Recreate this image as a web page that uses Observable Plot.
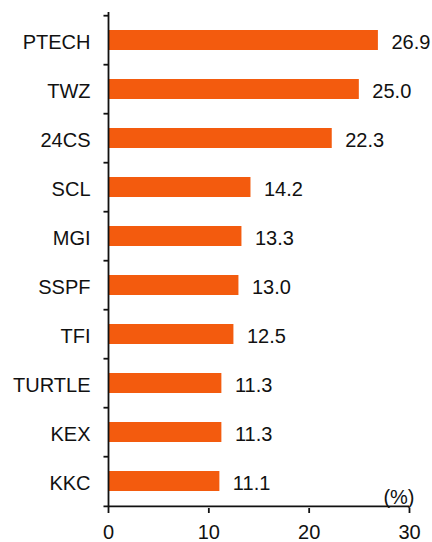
<!DOCTYPE html>
<html>
<head>
<meta charset="utf-8">
<script src="https://cdn.jsdelivr.net/npm/d3@7"></script>
<script src="https://cdn.jsdelivr.net/npm/@observablehq/plot@0.6"></script>
<style>
  html, body { margin: 0; padding: 0; background: #fff; }
  svg { display: block; }
</style>
</head>
<body>
<div id="chart"></div>
<script>
const categories = ["PTECH", "TWZ", "24CS", "SCL", "MGI", "SSPF", "TFI", "TURTLE", "KEX", "KKC"];
const values = [26.9, 25.0, 22.3, 14.2, 13.3, 13.0, 12.5, 11.3, 11.3, 11.1];
const xTicks = [0, 10, 20, 30];
const unitLabel = "(%)";

const data = categories.map((c, i) => ({name: c, value: values[i]}));

const W = 432, H = 542;
const mt = 12, mb = 34, ml = 108, mr = 23;
const step = (H - mt - mb) / categories.length;
const font = "Liberation Sans, Arial, Helvetica, sans-serif";
const orange = "#F35B0E";

const chart = Plot.plot({
  width: W,
  height: H,
  marginTop: mt,
  marginBottom: mb,
  marginLeft: ml,
  marginRight: mr,
  style: {fontFamily: font, fontSize: "20px", color: "#111", background: "#fff", overflow: "visible"},
  x: {domain: [0, 30], ticks: xTicks},
  y: {domain: categories, paddingInner: 0.6, paddingOuter: 0.3},
  marks: [
    Plot.barX(data, {y: "name", x: "value", fill: orange}),
    Plot.text(data, {y: "name", x: "value", text: d => d.value.toFixed(1), textAnchor: "start", dx: 13, dy: 2, fill: "#111", fontSize: 20}),
    Plot.axisY({tickSize: 0, tickPadding: 18, dy: 2, fontSize: 20, fill: "#111", label: null}),
    Plot.axisX({ticks: xTicks, tickSize: 5, tickPadding: 11, fontSize: 20, stroke: "#111", strokeWidth: 1.8, fill: "#111", label: null}),
    Plot.ruleX([0], {stroke: "#111", strokeWidth: 1.8}),
    Plot.ruleY(categories, {y: d => d, x1: -0.45, x2: 0, dy: -step / 2, stroke: "#111", strokeWidth: 1.8}),
    Plot.ruleY([categories[categories.length - 1]], {y: d => d, x1: -0.45, x2: 30, dy: step / 2, stroke: "#111", strokeWidth: 1.8}),
    Plot.text([unitLabel], {frameAnchor: "bottom-right", textAnchor: "end", lineAnchor: "bottom", dx: 5, dy: -5, fontSize: 20, fill: "#111"})
  ]
});
document.getElementById("chart").appendChild(chart);
</script>
</body>
</html>
